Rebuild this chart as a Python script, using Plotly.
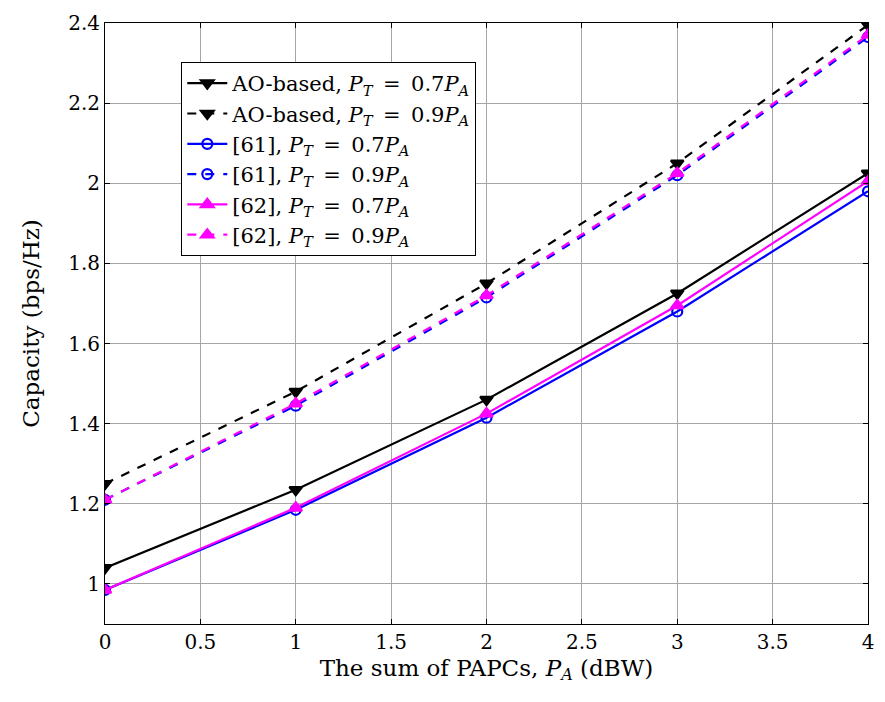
import plotly.graph_objects as go

x = [0, 1, 2, 3, 4]
ao_07 = [1.04, 1.235, 1.46, 1.725, 2.025]
ao_09 = [1.25, 1.48, 1.75, 2.05, 2.395]
r61_07 = [0.985, 1.185, 1.415, 1.68, 1.98]
r61_09 = [1.21, 1.445, 1.715, 2.02, 2.365]
r62_07 = [0.985, 1.19, 1.425, 1.695, 2.005]
r62_09 = [1.21, 1.45, 1.72, 2.025, 2.37]

xtick_vals = [0, 0.5, 1, 1.5, 2, 2.5, 3, 3.5, 4]
xtick_text = ["0", "0.5", "1", "1.5", "2", "2.5", "3", "3.5", "4"]
ytick_vals = [1, 1.2, 1.4, 1.6, 1.8, 2, 2.2, 2.4]
ytick_text = ["1", "1.2", "1.4", "1.6", "1.8", "2", "2.2", "2.4"]

SP = "\u2002"
PT07 = ", <i>P</i><sub><i>T</i></sub>" + SP + "=" + SP + "0.7<i>P</i><sub><i>A</i></sub>"
PT09 = ", <i>P</i><sub><i>T</i></sub>" + SP + "=" + SP + "0.9<i>P</i><sub><i>A</i></sub>"

series = [
    ("AO-based" + PT07, ao_07, "black", "solid", "triangle-down", 11),
    ("AO-based" + PT09, ao_09, "black", "dash", "triangle-down", 11),
    ("[61]" + PT07, r61_07, "blue", "solid", "circle-open", 10),
    ("[61]" + PT09, r61_09, "blue", "dash", "circle-open", 10),
    ("[62]" + PT07, r62_07, "magenta", "solid", "triangle-up", 11),
    ("[62]" + PT09, r62_09, "magenta", "dash", "triangle-up", 11),
]

fig = go.Figure()
for name, ys, col, dash, sym, sz in series:
    fig.add_trace(go.Scatter(
        x=x, y=ys, name=name, mode="lines+markers",
        line=dict(color=col, width=2.2, dash=dash),
        marker=dict(symbol=sym, size=sz, color=col, line=dict(color=col, width=2.2)),
    ))

font = "DejaVu Serif, serif"
axis_common = dict(
    showline=True, linecolor="black", linewidth=1, mirror="ticks",
    ticks="inside", ticklen=5, tickcolor="black",
    showgrid=True, gridcolor="#a6a6a6", gridwidth=1,
    zeroline=False, tickfont=dict(size=20, color="black", family=font),
)
fig.update_xaxes(range=[0, 4], tickvals=xtick_vals, ticktext=xtick_text,
                 title=dict(text="The sum of PAPCs, <i>P</i><sub><i>A</i></sub> (dBW)",
                            font=dict(size=23, color="black", family=font), standoff=6),
                 **axis_common)
fig.update_yaxes(range=[0.9, 2.4], tickvals=ytick_vals, ticktext=ytick_text,
                 title=dict(text="Capacity (bps/Hz)",
                            font=dict(size=23, color="black", family=font), standoff=22),
                 **axis_common)

fig.update_layout(
    width=885, height=702,
    margin=dict(l=105, r=11, t=22, b=78),
    plot_bgcolor="white", paper_bgcolor="white",
    font=dict(family=font, size=20, color="black"),
    legend=dict(x=0.1, y=0.935, xanchor="left", yanchor="top",
                bgcolor="white", bordercolor="black", borderwidth=1,
                font=dict(size=21, family=font), tracegroupgap=0,
                itemwidth=40),
    showlegend=True,
)

fig.write_html("out.html")
